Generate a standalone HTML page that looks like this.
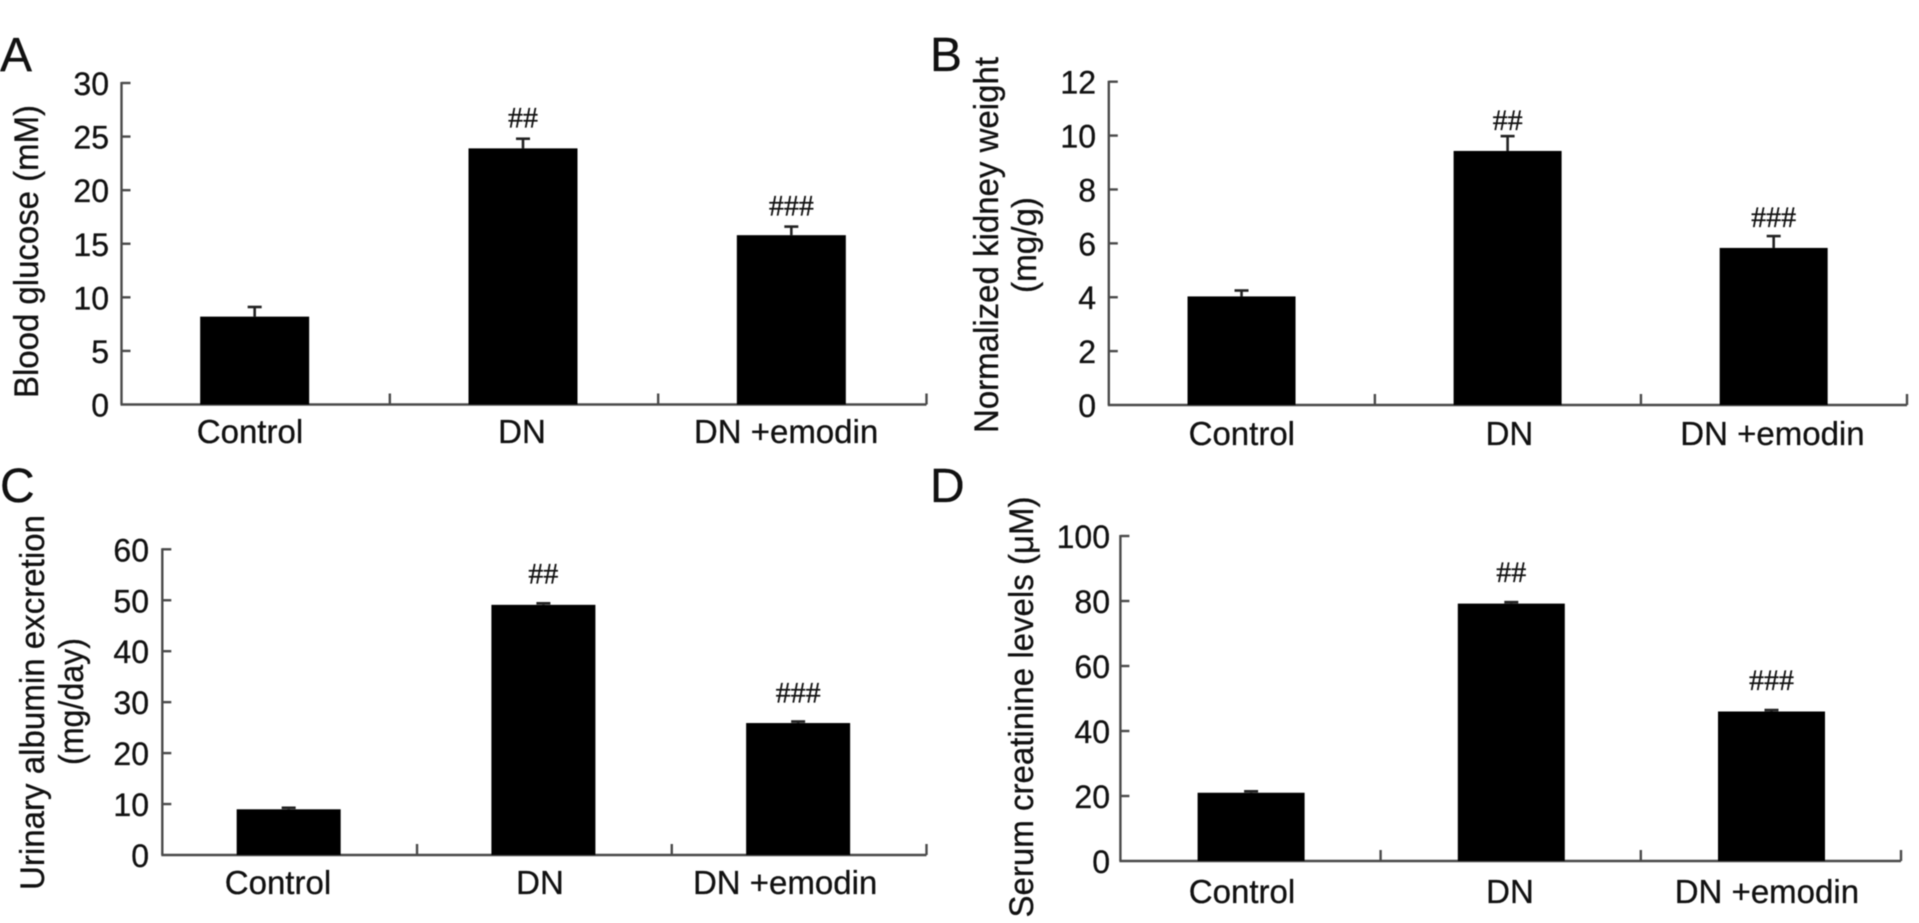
<!DOCTYPE html>
<html lang="en">
<head>
<meta charset="utf-8">
<title>Renal parameters bar charts</title>
<style>
  html, body { margin: 0; padding: 0; background: #fff; width: 1919px; height: 923px; overflow: hidden; }
  svg { display: block; filter: blur(0.5px); }
  text { font-family: "Liberation Sans", Arial, sans-serif; fill: #111; stroke: #111; stroke-width: 0.3px; }
  .tick-label { font-size: 32px; }
  .cat-label { font-size: 33px; }
  .axis-title { font-size: 34px; }
  .panel-letter { font-size: 48px; }
  .sig { font-family: "Liberation Serif", "Times New Roman", serif; font-size: 30px; text-anchor: middle; }
  .axis { stroke: #4a4a4a; stroke-width: 2.4; fill: none; }
  .bar { fill: #000; }
  .err { stroke: #222; stroke-width: 2.6; fill: none; }
</style>
</head>
<body>
<svg id="figure" xmlns="http://www.w3.org/2000/svg" width="1919" height="923" viewBox="0 0 1919 923">
  <rect width="1919" height="923" fill="#fff"/>

  <text class="panel-letter" x="0" y="71">A</text>
  <text class="panel-letter" x="930" y="71">B</text>
  <text class="panel-letter" x="0" y="502">C</text>
  <text class="panel-letter" x="930" y="502">D</text>

  <text class="axis-title" text-anchor="middle" transform="translate(38 251.5) rotate(-90)" textLength="293" lengthAdjust="spacingAndGlyphs">Blood glucose (mM)</text>
  <text class="axis-title" text-anchor="middle" transform="translate(998 245) rotate(-90)" textLength="376" lengthAdjust="spacingAndGlyphs">Normalized kidney weight</text>
  <text class="axis-title" text-anchor="middle" transform="translate(1036 245) rotate(-90)" textLength="96" lengthAdjust="spacingAndGlyphs">(mg/g)</text>
  <text class="axis-title" text-anchor="middle" transform="translate(44 702.5) rotate(-90)" textLength="375" lengthAdjust="spacingAndGlyphs">Urinary albumin excretion</text>
  <text class="axis-title" text-anchor="middle" transform="translate(83 701.5) rotate(-90)" textLength="127" lengthAdjust="spacingAndGlyphs">(mg/day)</text>
  <text class="axis-title" text-anchor="middle" transform="translate(1033 707) rotate(-90)" textLength="421" lengthAdjust="spacingAndGlyphs">Serum creatinine levels (μM)</text>
</svg>

<script>
const categories = ["Control", "DN", "DN +emodin"];
const significance = ["", "##", "###"];

const glucoseMeans = [8.2, 23.9, 15.8];
const glucoseErrors = [0.9, 0.9, 0.8];
const glucoseTicks = [0, 5, 10, 15, 20, 25, 30];

const kidneyMeans = [4.03, 9.43, 5.83];
const kidneyErrors = [0.22, 0.55, 0.44];
const kidneyTicks = [0, 2, 4, 6, 8, 10, 12];

const albuminMeans = [8.97, 49.1, 25.9];
const albuminErrors = [0.3, 0.3, 0.3];
const albuminTicks = [0, 10, 20, 30, 40, 50, 60];

const creatinineMeans = [21.0, 79.2, 46.0];
const creatinineErrors = [0.45, 0.45, 0.45];
const creatinineTicks = [0, 20, 40, 60, 80, 100];

const panels = [
  { id: "a", means: glucoseMeans, errors: glucoseErrors, ticks: glucoseTicks,
    frame: { left: 121.5, right: 926.5, top: 83, bottom: 404.5 },
    barWidth: 109, barShift: -1, labelRight: 109, catBaseline: 443,
    catShift: [-5.7, -2, -6.3], sigGap: [0, 11, 11] },
  { id: "b", means: kidneyMeans, errors: kidneyErrors, ticks: kidneyTicks,
    frame: { left: 1108.8, right: 1907, top: 81.7, bottom: 405 },
    barWidth: 108, barShift: -0.3, labelRight: 1096, catBaseline: 445,
    catShift: [0, 1.5, -1.5], sigGap: [0, 6, 9] },
  { id: "c", means: albuminMeans, errors: albuminErrors, ticks: albuminTicks,
    frame: { left: 162.3, right: 926.5, top: 549.3, bottom: 855 },
    barWidth: 104, barShift: -1, labelRight: 149, catBaseline: 894,
    catShift: [-11.7, -4.4, -14], sigGap: [0, 20, 19] },
  { id: "d", means: creatinineMeans, errors: creatinineErrors, ticks: creatinineTicks,
    frame: { left: 1120.4, right: 1901, top: 536, bottom: 861 },
    barWidth: 107, barShift: 0.6, labelRight: 1110, catBaseline: 903,
    catShift: [-8.5, -0.7, -4], sigGap: [0, 20, 20] }
];

const SVG_NS = "http://www.w3.org/2000/svg";
const figure = document.getElementById("figure");

function mk(tag, attrs, parent) {
  const el = document.createElementNS(SVG_NS, tag);
  for (const key in attrs) el.setAttribute(key, attrs[key]);
  parent.appendChild(el);
  return el;
}

panels.forEach(function (p) {
  const f = p.frame;
  const yMax = p.ticks[p.ticks.length - 1];
  const yScale = function (v) { return f.bottom - (v / yMax) * (f.bottom - f.top); };
  const band = (f.right - f.left) / categories.length;
  const xBand = function (i) { return f.left + (i + 0.5) * band; };

  const group = mk("g", {}, figure);
  
  

  const yAxis = mk("line", { x1: f.left, x2: f.left, y1: yScale(yMax) - 1, y2: f.bottom, "class": "axis" }, group);
  
  

  const xAxis = mk("line", { x1: f.left - 1, x2: f.right, y1: f.bottom, y2: f.bottom, "class": "axis" }, group);
  
  

  p.ticks.forEach(function (t) {
    const y = yScale(t);
    if (t !== 0) {
      const tick = mk("line", { x1: f.left, x2: f.left + 9, y1: y, y2: y, "class": "axis" }, group);
      
      
    }
    const label = mk("text", { x: p.labelRight, y: y + 12, "text-anchor": "end", "class": "tick-label" }, group);
    label.textContent = String(t);
    
    
  });

  categories.forEach(function (name, i) {
    const cx = xBand(i) + p.barShift;
    const meanY = yScale(p.means[i]);
    const errY = yScale(p.means[i] + p.errors[i]);

    const divider = mk("line", {
      x1: f.left + (i + 1) * band, x2: f.left + (i + 1) * band,
      y1: f.bottom - 11, y2: f.bottom, "class": "axis"
    }, group);
    
    

    const stem = mk("line", { x1: cx, x2: cx, y1: errY, y2: meanY, "class": "err" }, group);
    
    

    const cap = mk("line", { x1: cx - 7, x2: cx + 7, y1: errY, y2: errY, "class": "err" }, group);
    
    

    const bar = mk("rect", {
      x: cx - p.barWidth / 2, y: meanY,
      width: p.barWidth, height: f.bottom - meanY, "class": "bar"
    }, group);
    
    

    const cat = mk("text", {
      x: xBand(i) + p.catShift[i], y: p.catBaseline,
      "text-anchor": "middle", "class": "cat-label"
    }, group);
    cat.textContent = name;
    
    

    if (significance[i]) {
      const sig = mk("text", { x: cx, y: errY - p.sigGap[i], "class": "sig" }, group);
      sig.textContent = significance[i];
      
      
    }
  });
});
</script>
</body>
</html>
